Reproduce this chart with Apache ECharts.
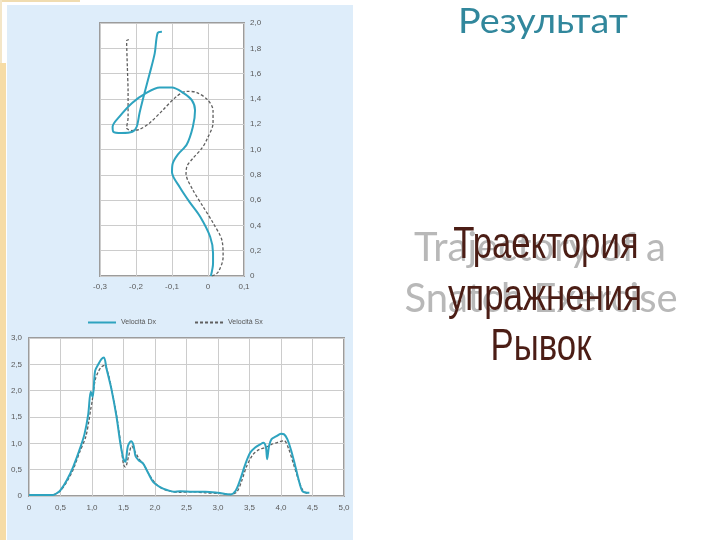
<!DOCTYPE html>
<html>
<head>
<meta charset="utf-8">
<script src="https://cdn.jsdelivr.net/npm/echarts@6/dist/echarts.min.js"></script>
<style>html,body{margin:0;padding:0;background:#fff}#c{width:720px;height:540px}</style>
</head>
<body>
<div id="c"></div>
<script>
// Trajectory (top chart): horizontal displacement (m) vs height (m)
const trajDxX = [0.008,0.014,0.014,0.006,-0.022,-0.05,-0.078,-0.1,-0.098,-0.084,-0.059,-0.042,-0.036,-0.045,-0.07,-0.1,-0.134,-0.17,-0.21,-0.246,-0.265,-0.263,-0.24,-0.21,-0.198,-0.19,-0.176,-0.162,-0.148,-0.14,-0.128];
const trajDxY = [0,0.1,0.18,0.31,0.47,0.58,0.70,0.82,0.89,0.96,1.04,1.18,1.31,1.39,1.45,1.49,1.49,1.45,1.37,1.26,1.18,1.14,1.13,1.14,1.18,1.29,1.45,1.60,1.76,1.92,1.93];
const trajSxX = [0.011,0.028,0.042,0.039,0.014,-0.014,-0.042,-0.061,-0.058,-0.042,-0.017,-0.003,0.014,0.014,0,-0.031,-0.059,-0.087,-0.126,-0.162,-0.19,-0.212,-0.226,-0.222,-0.222,-0.224,-0.226,-0.215];
const trajSxY = [0,0.03,0.15,0.28,0.42,0.55,0.68,0.81,0.87,0.93,1.01,1.08,1.21,1.31,1.39,1.45,1.46,1.42,1.31,1.21,1.16,1.15,1.17,1.25,1.45,1.65,1.86,1.87];

// Velocity (bottom chart): time (s) vs velocity (m/s)
const velDxT = [0,0.2,0.38,0.45,0.5,0.6,0.7,0.8,0.88,0.94,0.98,1.01,1.05,1.1,1.15,1.19,1.23,1.31,1.39,1.45,1.5,1.53,1.57,1.62,1.66,1.69,1.74,1.81,1.89,1.97,2.08,2.2,2.3,2.4,2.6,2.8,3.0,3.2,3.28,3.35,3.43,3.51,3.59,3.67,3.72,3.76,3.78,3.81,3.85,3.92,4.0,4.05,4.1,4.16,4.22,4.3,4.35,4.45];
const velDxV = [0.02,0.02,0.02,0.06,0.11,0.3,0.55,0.87,1.17,1.55,1.98,1.88,2.38,2.5,2.6,2.63,2.42,2.02,1.5,1.0,0.7,0.65,0.95,1.04,0.96,0.76,0.68,0.62,0.44,0.27,0.17,0.11,0.08,0.09,0.08,0.08,0.06,0.03,0.1,0.3,0.59,0.82,0.92,0.98,1.01,0.93,0.7,0.95,1.08,1.13,1.18,1.17,1.08,0.87,0.6,0.22,0.08,0.06];
const velSxT = [0,0.2,0.35,0.42,0.5,0.6,0.7,0.8,0.9,0.95,0.98,1.0,1.05,1.1,1.15,1.2,1.25,1.3,1.38,1.45,1.5,1.53,1.58,1.63,1.68,1.75,1.82,1.9,2.0,2.1,2.2,2.4,2.6,2.8,3.0,3.2,3.3,3.38,3.45,3.55,3.65,3.75,3.85,3.95,4.05,4.12,4.2,4.28,4.35,4.42];
const velSxV = [0.01,0.01,0.01,0.04,0.1,0.27,0.5,0.82,1.12,1.42,1.65,1.78,2.2,2.36,2.45,2.48,2.35,2.1,1.6,1.05,0.6,0.55,0.75,0.95,0.85,0.7,0.6,0.42,0.25,0.15,0.1,0.07,0.08,0.06,0.05,0.03,0.08,0.3,0.55,0.78,0.88,0.92,0.98,1.02,1.05,0.9,0.6,0.3,0.1,0.05];

const seriesNames = ['Velocità Dx', 'Velocità Sx'];
const titleText = 'Результат';
const ghostLines = ['Trajectory of a', 'Snatch Exercise'];
const mainLines = ['Траектория', 'упражнения', 'Рывок'];

const zip = (a, b) => a.map((v, i) => [v, b[i]]);
const fmt = v => (Math.abs(v) < 1e-9 ? '0' : v.toFixed(1).replace('.', ','));

const teal = '#2ea3bf';
const gray = '#5f5f5f';
const labelStyle = { fontSize: 8, color: '#5a5a5a', fontFamily: 'Liberation Sans', formatter: fmt };
const split = { show: true, lineStyle: { color: '#cccccc', width: 1 } };

const chart = echarts.init(document.getElementById('c'));
chart.setOption({
  animation: false,
  backgroundColor: '#ffffff',
  graphic: [
    { type: 'rect', z: -100, shape: { x: 7, y: 5, width: 346, height: 535 }, style: { fill: '#deedfa' } },
    { type: 'rect', z: -100, shape: { x: 0, y: 63, width: 6, height: 477 }, style: { fill: '#f6dca6' } },
    { type: 'rect', z: -100, shape: { x: 0, y: 0, width: 80, height: 2 }, style: { fill: '#f0dcb0' } },
    { type: 'rect', z: -100, shape: { x: 0, y: 0, width: 2, height: 63 }, style: { fill: '#f3e6c8' } },
    { type: 'text', x: 543, y: 22, z: 10, scaleX: 1.08, style: { text: titleText, fontSize: 35, fontFamily: 'Lato', fill: '#31879c', align: 'center', verticalAlign: 'middle' } },
    { type: 'text', x: 540, y: 248, z: 10, style: { text: ghostLines[0], fontSize: 40, fontFamily: 'Lato', fill: '#b8b8b8', align: 'center', verticalAlign: 'middle' } },
    { type: 'text', x: 541, y: 299, z: 10, style: { text: ghostLines[1], fontSize: 40, fontFamily: 'Lato', fill: '#b8b8b8', align: 'center', verticalAlign: 'middle' } },
    { type: 'text', x: 546, y: 246, z: 11, scaleX: 0.79, style: { text: mainLines[0], fontSize: 44, fontFamily: 'Liberation Sans', fill: '#4b1d15', align: 'center', verticalAlign: 'middle' } },
    { type: 'text', x: 545, y: 298, z: 11, scaleX: 0.79, style: { text: mainLines[1], fontSize: 44, fontFamily: 'Liberation Sans', fill: '#4b1d15', align: 'center', verticalAlign: 'middle' } },
    { type: 'text', x: 541, y: 348, z: 11, scaleX: 0.79, style: { text: mainLines[2], fontSize: 44, fontFamily: 'Liberation Sans', fill: '#4b1d15', align: 'center', verticalAlign: 'middle' } }
  ],
  legend: {
    data: seriesNames,
    left: 87, top: 319, padding: 0,
    itemWidth: 28, itemHeight: 8, itemGap: 38,
    itemStyle: { opacity: 0 },
    textStyle: { fontSize: 7, color: '#555', fontFamily: 'Liberation Sans' }
  },
  grid: [
    { left: 100, top: 23, width: 144, height: 253, show: true, backgroundColor: '#ffffff', borderColor: '#9c9c9c', borderWidth: 2 },
    { left: 29, top: 338, width: 315, height: 158, show: true, backgroundColor: '#ffffff', borderColor: '#9c9c9c', borderWidth: 2 }
  ],
  xAxis: [
    { type: 'value', gridIndex: 0, min: -0.3, max: 0.1, interval: 0.1, axisLine: { show: false }, axisTick: { show: false }, splitLine: split, axisLabel: Object.assign({ margin: 7 }, labelStyle) },
    { type: 'value', gridIndex: 1, min: 0, max: 5, interval: 0.5, axisLine: { show: false }, axisTick: { show: false }, splitLine: split, axisLabel: Object.assign({ margin: 8 }, labelStyle) }
  ],
  yAxis: [
    { type: 'value', gridIndex: 0, position: 'right', min: 0, max: 2, interval: 0.2, axisLine: { show: false }, axisTick: { show: false }, splitLine: split, axisLabel: Object.assign({ margin: 6 }, labelStyle) },
    { type: 'value', gridIndex: 1, min: 0, max: 3, interval: 0.5, axisLine: { show: false }, axisTick: { show: false }, splitLine: split, axisLabel: Object.assign({ margin: 7 }, labelStyle) }
  ],
  series: [
    { name: seriesNames[1], type: 'line', xAxisIndex: 0, yAxisIndex: 0, data: zip(trajSxX, trajSxY), smooth: 0.3, showSymbol: false, symbol: 'none', lineStyle: { color: gray, width: 1.3, type: [3, 2] }, itemStyle: { color: gray } },
    { name: seriesNames[0], type: 'line', xAxisIndex: 0, yAxisIndex: 0, data: zip(trajDxX, trajDxY), smooth: 0.3, showSymbol: false, symbol: 'none', lineStyle: { color: teal, width: 2 }, itemStyle: { color: teal } },
    { name: seriesNames[1], type: 'line', xAxisIndex: 1, yAxisIndex: 1, data: zip(velSxT, velSxV), smooth: 0.3, showSymbol: false, symbol: 'none', lineStyle: { color: gray, width: 1.3, type: [3, 2] }, itemStyle: { color: gray } },
    { name: seriesNames[0], type: 'line', xAxisIndex: 1, yAxisIndex: 1, data: zip(velDxT, velDxV), smooth: 0.3, showSymbol: false, symbol: 'none', lineStyle: { color: teal, width: 2 }, itemStyle: { color: teal } }
  ]
});
</script>
</body>
</html>
